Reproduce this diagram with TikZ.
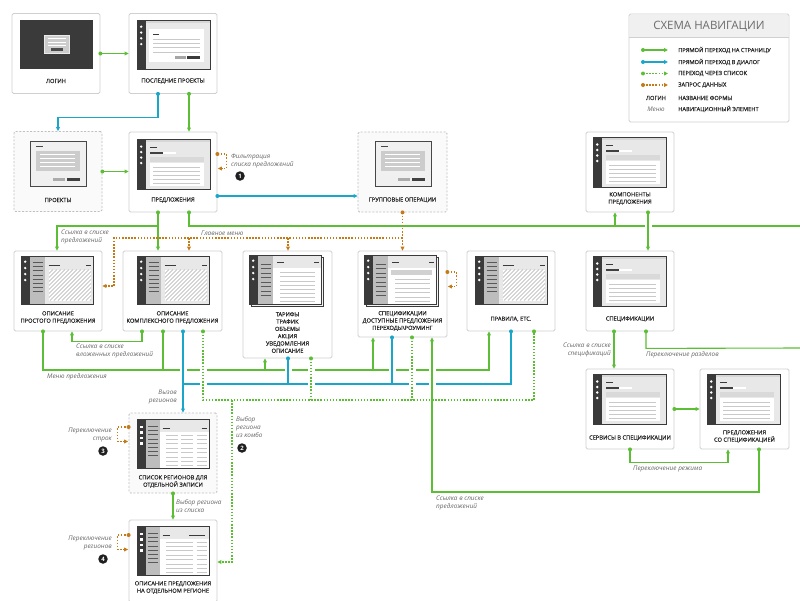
\documentclass[tikz,border=0pt]{standalone}
\usepackage{fontspec}
\setmainfont{Open Sans}
\newfontfamily\lblfont{Open Sans}[FakeBold=0.35]
\usetikzlibrary{arrows.meta,calc}

\definecolor{gc}{HTML}{5BBE35}
\definecolor{bc}{HTML}{1AA6C9}
\definecolor{oc}{HTML}{C47A16}
\definecolor{frm}{HTML}{3A3A3A}
\definecolor{sbg}{HTML}{E8E8E8}
\definecolor{lnc}{HTML}{C9C9C9}
\definecolor{colc}{HTML}{BDBDBD}
\definecolor{txt}{HTML}{262626}
\definecolor{itc}{HTML}{666666}
\definecolor{bdr}{HTML}{D0D0D0}

\tikzset{
 box/.style={draw=bdr, fill=white, line width=0.8pt, rounded corners=1.5pt, minimum width=88pt, minimum height=80pt, inner sep=0pt},
 dbox/.style={box, draw=black!25, dash pattern=on 2pt off 1.6pt, fill=black!2},
 lbl/.style={font=\lblfont\fontsize{5.7}{7.3}\selectfont, text=txt, align=center, inner sep=0pt},
 itl/.style={font=\fontsize{6.4}{8}\selectfont\itshape, text=itc, inner sep=0pt},
 con/.style={line width=1.1pt},
 gl/.style={con, draw=gc},
 bl/.style={con, draw=bc},
 gd/.style={con, draw=gc, dash pattern=on 1.5pt off 1.6pt},
 od/.style={con, draw=oc, dash pattern=on 1.5pt off 1.6pt},
 arr/.style={-{Triangle[length=4pt,width=3.8pt]}},
 badge/.style={circle, fill=black!88, text=white, font=\fontsize{6}{6}\selectfont\bfseries, minimum size=9.5pt, inner sep=0pt},
}

\newcommand\sideBar[2]{%
 \fill[frm] (0,0) rectangle (8.5,#1);
 \foreach \yy in {#2} \fill[white] (4.2,\yy) circle[radius=1.3pt];}

\newcommand\scrLogin[2]{\begin{scope}[shift={(#1,#2)}]
 \fill[frm] (0,0) rectangle (73,49);
 \filldraw[fill=black!20, draw=black!8, line width=0.5pt] (24.5,15) rectangle (49,33.5);
 \foreach \yy in {18.5,22,25.5} \draw[white, line width=0.9pt] (27.5,\yy) -- (46,\yy);
 \fill[black!70] (31,28.3) rectangle (42.5,30.8);
\end{scope}}

\newcommand\scrList[2]{\begin{scope}[shift={(#1,#2)}]
 \fill[sbg] (0,0) rectangle (73,49);
 \fill[black!16] (8.5,0) rectangle (73,3);
 \fill[white] (12,9) rectangle (67,42);
 \draw[frm, line width=0.9pt] (16,14) -- (22,14);
 \foreach \yy in {19,23.3,27.6,31.9} \draw[lnc, line width=0.8pt] (16,\yy) -- (63,\yy);
 \fill[black!35] (38,36.2) rectangle (49,38.8);
 \fill[frm] (50,36.2) rectangle (63,38.8);
 \sideBar{49}{6.7,12.5,18.3,24.1}
 \draw[frm, line width=1pt] (0,0) rectangle (73,49);
\end{scope}}

\newcommand\scrDialog[2]{\begin{scope}[shift={(#1,#2)}]
 \filldraw[fill=black!6, draw=black!72, line width=1pt] (0,0) rectangle (56,45);
 \draw[black!72, line width=1pt] (6,5) -- (13,5);
 \fill[black!20] (6,10) rectangle (50,30);
 \foreach \yy in {13,17,21,25} \draw[white, line width=1pt] (10,\yy) -- (45,\yy);
 \fill[black!33] (23,37.2) rectangle (35,39.7);
 \fill[black!75] (37,37.2) rectangle (50,39.7);
\end{scope}}

\newcommand\scrTab[2]{\begin{scope}[shift={(#1,#2)}]
 \fill[sbg] (0,0) rectangle (73,50);
 \fill[black!16] (8.5,0) rectangle (73,3);
 \draw[frm, line width=0.9pt] (13,8.5) -- (20,8.5);
 \fill[black!75] (13,12.5) rectangle (26,15.3);
 \fill[white] (26,12.5) rectangle (39,15.3);
 \fill[black!15] (13,17.5) rectangle (67,22.5);
 \fill[white] (13,24) rectangle (67,46.5);
 \foreach \yy in {28,32,36,40,44} \draw[lnc, line width=0.8pt] (16,\yy) -- (63,\yy);
 \sideBar{50}{7.5,13,18.5,24}
 \draw[frm, line width=1pt] (0,0) rectangle (73,50);
\end{scope}}

\newcommand\scrHatch[2]{\begin{scope}[shift={(#1,#2)}]
 \fill[sbg] (0,0) rectangle (72,48);
 \fill[colc] (8.5,0) rectangle (24,48);
 \foreach \yy in {6.5,10.7,14.9,19.1,23.3,27.5,31.7,35.9} \draw[black!65, line width=0.9pt] (11.5,\yy) -- (21.5,\yy);
 \draw[frm, line width=0.8pt] (27.5,9) -- (38.5,9);
 \draw[frm, line width=0.8pt] (65,9) -- (69.5,9);
 \fill[white] (28,13.5) rectangle (70,44.5);
 \begin{scope}
  \clip (28,13.5) rectangle (70,44.5);
  \foreach \a in {-3,1,...,70} \draw[black!22, line width=0.8pt] (\a,44.5) -- ({\a+31},13.5);
 \end{scope}
 \sideBar{48}{5.7,12,18,24}
 \draw[frm, line width=1pt] (0,0) rectangle (72,48);
\end{scope}}

\newcommand\scrStack[3]{\begin{scope}[shift={(#1,#2)}]
 \filldraw[fill=black!4, draw=frm, line width=0.8pt] (2.5,2.5) rectangle (74.5,51.5);
 \fill[sbg] (0,0) rectangle (72,49);
 \fill[colc] (8.5,0) rectangle (23.5,49);
 \foreach \yy in {9.3,13.8,18.3,22.8,27.3,31.8,36.3,40.8} \draw[black!65, line width=0.9pt] (11.5,\yy) -- (21.5,\yy);
 \fill[white] (23.5,13) rectangle (72,49);
 \draw[frm, line width=0.8pt] (28,7) -- (35,7);
 \draw[frm, line width=0.8pt] (65,7) -- (69.5,7);
 \ifnum#3=1
  \fill[black!18] (27,14.5) rectangle (68,19.5);
  \foreach \yy in {24,28.5,33,37.5,42,46.5} \draw[lnc, line width=0.8pt] (31,\yy) -- (66,\yy);
 \else
  \foreach \yy in {17.7,21.8,25.9,30,34.1,38.2,42.3,46.4} \draw[lnc, line width=0.8pt] (31,\yy) -- (66,\yy);
 \fi
 \sideBar{49}{5.7,12,18,24}
 \draw[frm, line width=1pt] (0,0) rectangle (72,49);
\end{scope}}

\newcommand\scrTable[3]{\begin{scope}[shift={(#1,#2)}]
 \fill[sbg] (0,0) rectangle (72,49);
 \fill[colc] (8.5,0) rectangle (23,49);
 \foreach \yy in {7.5,11.7,15.9,20.1,24.3,28.5,32.7,36.9} \draw[black!65, line width=0.9pt] (11,\yy) -- (21,\yy);
 \fill[white] (23,13) rectangle (72,49);
 \draw[frm, line width=0.9pt] (25.5,9) -- (33,9);
 \ifnum#3=1
  \draw[frm, line width=0.9pt] (64.7,9) -- (69.7,9);
  \foreach \yy in {16,20.4,24.8,29.2,33.6,38,42.4,46.8} {
   \draw[lnc, line width=0.8pt] (28.5,\yy) -- (40.5,\yy);
   \draw[lnc, line width=0.8pt] (44,\yy) -- (56,\yy);
   \draw[lnc, line width=0.8pt] (60,\yy) -- (70,\yy);}
 \else
  \draw[frm, line width=0.9pt] (52,9) -- (68,9);
  \foreach \yy in {16,20.4,24.8,29.2,33.6,38,42.4,46.8} {
   \draw[lnc, line width=0.8pt] (28.5,\yy) -- (56,\yy);
   \draw[lnc, line width=0.8pt] (59.5,\yy) -- (70,\yy);}
 \fi
 \fill[frm] (0,0) rectangle (8.5,49);
 \foreach \yy in {6.5,12,17.5,23} \fill[white] (2.9,\yy) rectangle ++(2.6,2.6);
 \draw[frm, line width=1pt] (0,0) rectangle (72,49);
\end{scope}}

\newcommand\gapmask[2]{\fill[white] ({#1-3.5},{#2-2.2}) rectangle ({#1+3.5},{#2+2.2});}
\newcommand\portdot[2]{\fill[#1] (#2) circle[radius=2pt];}

\begin{document}
\begin{tikzpicture}[x=1pt,y=-1pt]
\useasboundingbox (0,0) rectangle (800,600);
\fill[white] (0,0) rectangle (800,600);

% ---------- boxes
\node[box] (login) at (56,53.5) {};
\node[box] (last) at (173,53.5) {};
\node[dbox] (proj) at (58,171.5) {};
\node[box] (offers) at (173,172) {};
\node[dbox, minimum width=89pt] (group) at (402.5,172) {};
\node[box] (comp) at (630,172) {};
\node[box] (simple) at (58,291) {};
\node[box, minimum width=99pt] (complex) at (172.5,291) {};
\node[box, minimum width=89pt, minimum height=107pt] (tariffs) at (287.5,304.5) {};
\node[box, minimum width=89pt, minimum height=86pt] (specs) at (402.5,294) {};
\node[box] (rules) at (511,291) {};
\node[box] (specR) at (630,291) {};
\node[box] (serv) at (630,409) {};
\node[box, minimum width=89pt] (offSpec) at (744.5,409) {};
\node[dbox] (regList) at (173,453) {};
\node[box, minimum height=82pt] (regDesc) at (173,561) {};

% ---------- screens
\scrLogin{20}{20}
\scrList{137}{20}
\scrDialog{30}{141}
\scrTab{137}{139}
\scrDialog{375}{141}
\scrTab{593}{137}
\scrHatch{21}{256}
\scrHatch{137}{256}
\scrStack{249}{255}{0}
\scrStack{364}{255}{1}
\scrHatch{475}{256}
\scrTab{593}{256}
\scrTab{593}{374}
\scrTab{707}{374}
\scrTable{137}{419}{1}
\scrTable{137}{526}{2}

% ---------- form titles
\node[lbl] (login-t) at (56,81) {ЛОГИН};
\node[lbl] (last-t) at (173,81) {ПОСЛЕДНИЕ ПРОЕКТЫ};
\node[lbl] (proj-t) at (58,200) {ПРОЕКТЫ};
\node[lbl] (offers-t) at (173,200) {ПРЕДЛОЖЕНИЯ};
\node[lbl] (group-t) at (402.5,200) {ГРУППОВЫЕ ОПЕРАЦИИ};
\node[lbl] (comp-t) at (630,198.5) {КОМПОНЕНТЫ\\ПРЕДЛОЖЕНИЯ};
\node[lbl] (simple-t) at (58,317.5) {ОПИСАНИЕ\\ПРОСТОГО ПРЕДЛОЖЕНИЯ};
\node[lbl] (complex-t) at (172.5,317.5) {ОПИСАНИЕ\\КОМПЛЕКСНОГО ПРЕДЛОЖЕНИЯ};
\node[lbl] (tariffs-t) at (287.5,332.5) {ТАРИФЫ\\ТРАФИК\\ОБЪЕМЫ\\АКЦИЯ\\УВЕДОМЛЕНИЯ\\ОПИСАНИЕ};
\node[lbl] (specs-t) at (402.5,321) {СПЕЦИФИКАЦИИ\\ДОСТУПНЫЕ ПРЕДЛОЖЕНИЯ\\ПЕРЕХОДЫ\textbackslash РОУМИНГ};
\node[lbl] (rules-t) at (511,319) {ПРАВИЛА, ETC.};
\node[lbl] (specR-t) at (630,319) {СПЕЦИФИКАЦИИ};
\node[lbl] (serv-t) at (630,438) {СЕРВИСЫ В СПЕЦИФИКАЦИИ};
\node[lbl] (offSpec-t) at (744.5,436.5) {ПРЕДЛОЖЕНИЯ\\СО СПЕЦИФИКАЦИЕЙ};
\node[lbl] (regList-t) at (173,481.5) {СПИСОК РЕГИОНОВ ДЛЯ\\ОТДЕЛЬНОЙ ЗАПИСИ};
\node[lbl] (regDesc-t) at (173,587.5) {ОПИСАНИЕ ПРЕДЛОЖЕНИЯ\\НА ОТДЕЛЬНОМ РЕГИОНЕ};

% ---------- named free coordinates / bus levels
\coordinate (eastA) at (800,226);
\coordinate (eastB) at (800,348);
\coordinate (busG) at (0,370);
\coordinate (busB) at (0,384);
\coordinate (busD) at (0,400);
\coordinate (busL) at (0,492);
\coordinate (om) at (114,238);

% ---------- top connectors
\draw[gl,arr] (login.east) -- (login.east -| last.west);
\draw[bl,arr] ($(last.south)+(-15,0)$) coordinate (lb1) -- ++(0,24) -| (proj.north);
\draw[gl,arr] ($(last.south)+(16,0)$) coordinate (lb2) -- ($(offers.north)+(16,0)$);
\draw[gl,arr] (proj.east) coordinate (pe) -- (pe -| offers.west);
\draw[bl,arr] ($(offers.east)+(0,24)$) coordinate (oe) -- (oe -| group.west);
\draw[od,arr] ($(offers.east)+(0,-18)$) coordinate (ol) -- ++(9,0) -- ++(0,14.5) -- ++(-8.5,0);

% offers -> descriptions
\draw[gl,arr] ($(offers.south)+(-15,0)$) coordinate (ob1) -- ($(complex.north)+(-14.5,0)$);
\draw[gl,arr] ($(offers.south)+(-15,13.6)$) -| ($(simple.north)+(-1,0)$);
\draw[gl] ($(offers.south)+(16,0)$) coordinate (ob2) |- (eastA);
\draw[gl,arr] ($(comp.south)+(-15,13.6)$) -- ($(comp.south)+(-15,0)$);
\gapmask{648}{226}
\draw[gl,arr] ($(comp.south)+(18,0)$) coordinate (cpb) -- ($(specR.north)+(18,0)$);

% main menu (orange)
\draw[od,arr] (group.south) coordinate (gb) -- (specs.north);
\draw[od,arr] ($(group.south)+(0,25.6)$) -- (om) |- ($(simple.east)+(0,-5)$);
\draw[od,arr] ($(complex.north)+(16.5,-12.6)$) -- ($(complex.north)+(16.5,0)$);
\draw[od,arr] ($(tariffs.north)+(0.5,-12.6)$) -- ($(tariffs.north)+(0.5,0)$);
\draw[od,arr] ($(specs.east)+(0,-22)$) coordinate (sl2) -- ++(9,0) -- ++(0,14.5) -- ++(-8.5,0);

% nested link
\draw[gl,arr] ($(complex.south)+(-30.5,0)$) coordinate (cb1) -- ++(0,10) -| ($(simple.south)+(14,0)$);

% menu bus (green)
\coordinate (sb) at ($(simple.south)+(-15,0)$);
\coordinate (cb2) at ($(complex.south)+(-9.5,0)$);
\coordinate (tg) at ($(tariffs.south)+(-22.5,0)$);
\coordinate (sg) at ($(specs.south)+(-29.5,0)$);
\draw[gl,arr] (sb) -- (sb |- busG) -| ($(rules.south)+(-22,0)$);
\draw[gl] (cb2) -- (cb2 |- busG);
\draw[gl,arr] (tg |- busG) -- (tg);
\draw[gl,arr] (sg |- busG) -- (sg);

% blue bus
\coordinate (rb) at (rules.south);
\coordinate (cbB) at ($(complex.south)+(10.5,0)$);
\coordinate (tb) at ($(tariffs.south)+(0.5,0)$);
\coordinate (sbl) at ($(specs.south)+(-10.5,0)$);
\draw[bl] (rb) -- (rb |- busB) -- (cbB |- busB);

% gaps
\gapmask{183}{370}\gapmask{203}{370}\gapmask{288}{370}\gapmask{311}{370}
\gapmask{392}{370}\gapmask{412}{370}\gapmask{432}{370}
\gapmask{203}{384}\gapmask{311}{384}\gapmask{412}{384}\gapmask{432}{384}

\draw[bl,arr] (cbB) -- ($(regList.north)+(10,0)$);
\draw[bl] (tb) -- (tb |- busB);
\draw[bl] (sbl) -- (sbl |- busB);

% dotted (list) bus
\coordinate (cd) at ($(complex.south)+(30.5,0)$);
\coordinate (rd) at ($(rules.south)+(23,0)$);
\coordinate (td) at ($(tariffs.south)+(23.5,0)$);
\coordinate (sd) at ($(specs.south)+(9.5,0)$);
\coordinate (dd) at (232,400);
\draw[gd] (cd) -- (cd |- busD) -- (rd |- busD) -- (rd);
\draw[gd] (td) -- (td |- busD);
\draw[gd] (sd) -- (sd |- busD);
\draw[gd,arr] (dd) |- ($(regDesc.east)+(0,1)$);

% link back to specifications
\coordinate (osb) at ($(offSpec.south)+(14.5,0)$);
\coordinate (sl) at ($(specs.south)+(29.5,0)$);
\draw[gl,arr] (osb) -- (osb |- busL) -| (sl);

% right column
\draw[gl,arr] ($(specR.south)+(-16,0)$) coordinate (srb1) -- ($(serv.north)+(-16,0)$);
\draw[gl] ($(specR.south)+(16,0)$) coordinate (srb2) -- ++(0,17) -- (eastB);
\draw[gl,arr] (serv.east) coordinate (se) -- (se -| offSpec.west);
\draw[gl,arr] (serv.south) coordinate (ssb) -- ++(0,13) -| ($(offSpec.south)+(-16.5,0)$);

% regions
\draw[gl,arr] (regList.south) coordinate (rlb) -- (regDesc.north);
\draw[od,arr] ($(regList.west)+(0,-26)$) coordinate (rll) -- ++(-11,0) -- ++(0,14.5) -- ++(10.5,0);
\draw[od,arr] ($(regDesc.west)+(0,-26)$) coordinate (rdl) -- ++(-11,0) -- ++(0,14.5) -- ++(10.5,0);

% ---------- dots
\portdot{gc}{login.east}
\portdot{bc}{lb1}\portdot{gc}{lb2}
\portdot{gc}{pe}\portdot{bc}{oe}\portdot{oc}{ol}
\portdot{gc}{ob1}\portdot{gc}{ob2}
\portdot{oc}{gb}\portdot{gc}{cpb}\portdot{oc}{sl2}
\portdot{gc}{cb1}\portdot{gc}{sb}\portdot{gc}{cb2}\portdot{bc}{cbB}\portdot{gc}{cd}
\portdot{bc}{tb}\portdot{gc}{td}\portdot{bc}{sbl}\portdot{gc}{sd}
\portdot{bc}{rb}\portdot{gc}{rd}
\portdot{gc}{osb}\portdot{gc}{srb1}\portdot{gc}{srb2}\portdot{gc}{se}\portdot{gc}{ssb}
\portdot{gc}{rlb}\portdot{oc}{rll}\portdot{oc}{rdl}

% ---------- annotations
\node[itl, anchor=west, align=left] (n-filt) at (231,161) {Фильтрация\\списка предложений};
\node[itl, anchor=west] (n-main) at (201,233) {Главное меню};
\node[itl, anchor=west, align=left] (n-link1) at (61,236.5) {Ссылка в списке\\предложений};
\node[itl, anchor=west, align=left] (n-nest) at (76,350.5) {Ссылка в списке\\вложенных предложений};
\node[itl, anchor=west] (n-menu) at (47,377) {Меню предложения};
\node[itl, anchor=east, align=right] (n-call) at (177,397) {Вызов\\регионов};
\node[itl, anchor=west, align=left] (n-combo) at (236,427.5) {Выбор\\региона\\из комбо};
\node[itl, anchor=east, align=right] (n-rows) at (112,435) {Переключение\\строк};
\node[itl, anchor=west, align=left] (n-pick) at (176,506) {Выбор региона\\из списка};
\node[itl, anchor=east, align=right] (n-regs) at (112,543) {Переключение\\регионов};
\node[itl, anchor=west, align=left] (n-link2) at (436,503) {Ссылка в списке\\предложений};
\node[itl, anchor=east, align=right] (n-link3) at (611,349.5) {Ссылка в списке\\спецификаций};
\node[itl, anchor=west] (n-sect) at (646,355) {Переключение разделов};
\node[itl, anchor=west] (n-mode) at (633,469) {Переключение режима};

\node[badge] (b1) at (240,176) {1};
\node[badge] (b2) at (242,448) {2};
\node[badge] (b3) at (103,451) {3};
\node[badge] (b4) at (103,559) {4};

% ---------- legend
\node[draw=bdr, fill=white, line width=0.8pt, rounded corners=1.5pt, minimum width=160pt, minimum height=108pt, inner sep=0pt] (legend) at (709,68) {};
\fill[black!6] (629.8,14.8) rectangle (788.2,37);
\draw[bdr, line width=0.8pt] (629,37) -- (789,37);
\node[font=\fontsize{11.5}{13}\selectfont, text=black!58, inner sep=0pt] (leg-title) at (709,26) {СХЕМА НАВИГАЦИИ};
\coordinate (l1a) at (643,50);  \coordinate (l1b) at (668,50);
\coordinate (l2a) at (643,62);  \coordinate (l2b) at (668,62);
\coordinate (l3a) at (643,73.5);  \coordinate (l3b) at (668,73.5);
\coordinate (l4a) at (643,85);  \coordinate (l4b) at (668,85);
\draw[gl,arr] (l1a) -- (l1b);
\draw[bl,arr] (l2a) -- (l2b);
\draw[gd,arr] (l3a) -- (l3b);
\draw[od,arr] (l4a) -- (l4b);
\portdot{gc}{l1a}\portdot{bc}{l2a}\portdot{gc}{l3a}\portdot{oc}{l4a}
\node[lbl, anchor=west] (lt1) at (678,50) {ПРЯМОЙ ПЕРЕХОД НА СТРАНИЦУ};
\node[lbl, anchor=west] (lt2) at (678,62) {ПРЯМОЙ ПЕРЕХОД В ДИАЛОГ};
\node[lbl, anchor=west] (lt3) at (678,73.5) {ПЕРЕХОД ЧЕРЕЗ СПИСОК};
\node[lbl, anchor=west] (lt4) at (678,85) {ЗАПРОС ДАННЫХ};
\node[lbl] (ls5) at (656,98) {ЛОГИН};
\node[lbl, anchor=west] (lt5) at (678,98) {НАЗВАНИЕ ФОРМЫ};
\node[itl] (ls6) at (656,109) {Меню};
\node[lbl, anchor=west] (lt6) at (678,109) {НАВИГАЦИОННЫЙ ЭЛЕМЕНТ};
\end{tikzpicture}
\end{document}
